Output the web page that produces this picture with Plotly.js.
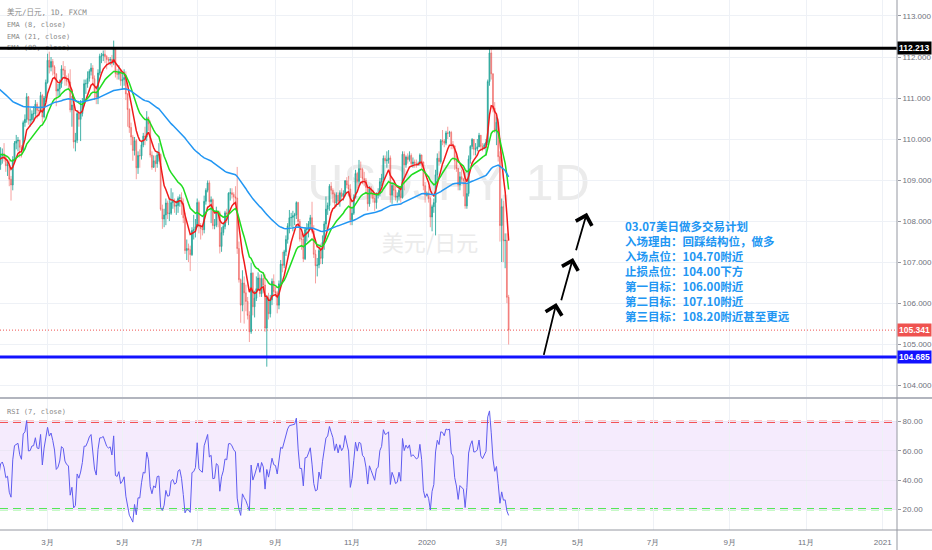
<!DOCTYPE html>
<html>
<head>
<meta charset="utf-8">
<script src="https://cdn.plot.ly/plotly-3.0.1.min.js"></script>
<style>
  html, body { margin: 0; padding: 0; background: #fff; }
  #chart { width: 932px; height: 550px; }
</style>
</head>
<body>
<div id="chart"></div>
<script>
// USD/JPY daily bars (FXCM), one per weekday from 2019-01-21 to 2020-03-06
const firstDay = '2019-01-21'
const prevClose = 109.77 // close of the bar before the first one

// one row per week
const closes = [
    109.65, 109.37, 109.60, 109.64, 109.55,
    109.35, 109.37, 109.02, 108.88, 109.50,
    109.90, 109.95, 109.97, 109.80, 109.73,
    110.40, 110.48, 111.03, 110.46, 110.47,
    110.61, 110.62, 110.85, 110.70, 110.69,
    111.06, 110.54, 111.00, 111.38, 111.92,
    111.75, 111.89, 111.76, 111.59, 111.17,
    111.22, 111.35, 111.71, 111.68, 111.47,
    111.41, 111.39, 110.71, 110.83, 109.93,
    109.97, 110.62, 110.48, 110.62, 110.85,
    111.35, 111.35, 111.48, 111.65, 111.73,
    111.47, 111.15, 111.02, 111.61, 112.02,
    112.03, 112.07, 112.01, 111.94, 111.92,
    111.94, 111.86, 112.20, 111.60, 111.58,
    111.65, 111.42, 111.45, 111.50, 111.10,
    110.72, 110.28, 110.05, 109.72, 109.96,
    109.30, 109.60, 109.59, 109.86, 110.07,
    110.05, 110.52, 110.37, 109.61, 109.31,
    109.47, 109.40, 109.61, 109.62, 108.29,
    108.05, 108.15, 108.44, 108.18, 108.19,
    108.45, 108.48, 108.36, 108.38, 108.55,
    108.57, 108.43, 108.08, 107.28, 107.33,
    107.30, 107.18, 107.77, 107.79, 107.86,
    108.45, 107.88, 107.82, 107.79, 108.48,
    108.75, 108.93, 108.47, 108.52, 107.89,
    107.90, 108.24, 108.20, 107.38, 107.72,
    107.87, 108.20, 108.18, 108.68, 108.69,
    108.65, 108.59, 108.56, 107.33, 106.57,
    105.95, 106.49, 106.25, 106.04, 105.70,
    105.30, 106.73, 105.91, 106.12, 106.35,
    106.61, 106.23, 106.60, 106.44, 105.39,
    106.13, 105.74, 106.08, 106.53, 106.28,
    106.25, 105.95, 106.47, 106.95, 106.92,
    107.25, 107.55, 107.88, 108.08, 108.09,
    108.13, 108.15, 108.45, 107.99, 107.56,
    107.56, 107.08, 107.79, 107.80, 107.93,
    108.08, 107.75, 107.19, 106.91, 106.93,
    107.28, 107.09, 107.48, 107.93, 108.29,
    108.38, 108.85, 108.75, 108.66, 108.44,
    108.63, 108.48, 108.69, 108.60, 108.67,
    108.98, 108.88, 108.78, 108.03, 108.19,
    108.58, 109.16, 108.97, 109.28, 109.26,
    109.04, 109.00, 108.82, 108.42, 108.78,
    108.67, 108.55, 108.45, 108.63, 108.66,
    108.96, 109.05, 109.53, 109.47, 109.49,
    109.54, 108.63, 108.87, 108.75, 108.58,
    108.60, 108.75, 108.57, 109.63, 109.37,
    109.56, 109.50, 109.60, 109.40, 109.44,
    109.41, 109.38, 109.40, 109.61, 109.44,
    108.86, 108.63, 108.68, 108.55, 108.10,
    108.35, 108.45, 109.13, 109.53, 109.45,
    109.96, 109.95, 109.90, 110.15, 110.14,
    110.16, 109.87, 109.83, 109.47, 109.28,
    108.88, 109.08, 109.02, 108.99, 108.37,
    108.67, 109.51, 109.82, 109.99, 109.75,
    109.76, 109.81, 110.09, 109.82, 109.77,
    109.86, 109.92, 111.40, 112.10, 111.59,
    110.75, 110.22, 110.41, 109.57, 107.89,
    108.35, 107.52, 107.53, 106.14, 105.341
]

const highs = [
    109.80, 109.70, 109.80, 109.77, 109.90,
    109.60, 109.50, 109.55, 109.10, 109.58,
    109.95, 110.10, 110.05, 109.98, 109.85,
    110.45, 110.60, 111.12, 111.05, 110.75,
    110.70, 110.80, 110.95, 110.90, 110.80,
    111.15, 111.10, 111.05, 111.45, 112.08,
    112.13, 112.00, 111.95, 111.80, 111.60,
    111.35, 111.45, 111.80, 111.90, 111.78,
    111.55, 111.60, 111.70, 111.05, 110.95,
    110.15, 110.70, 110.70, 110.95, 111.00,
    111.45, 111.45, 111.65, 111.70, 111.85,
    111.80, 111.55, 111.25, 111.70, 112.08,
    112.10, 112.16, 112.17, 112.05, 112.00,
    112.00, 112.05, 112.40, 112.22, 111.70,
    111.80, 111.70, 111.60, 111.70, 111.65,
    111.12, 110.75, 110.40, 110.10, 110.05,
    110.00, 109.70, 109.75, 109.95, 110.15,
    110.30, 110.68, 110.55, 110.45, 109.70,
    109.60, 109.60, 109.70, 109.90, 109.65,
    108.40, 108.30, 108.55, 108.50, 108.55,
    108.80, 108.70, 108.55, 108.50, 108.60,
    108.65, 108.70, 108.55, 108.20, 107.55,
    107.45, 107.40, 107.85, 108.15, 108.05,
    108.55, 108.50, 107.95, 107.90, 108.62,
    108.80, 108.99, 108.99, 108.60, 108.55,
    108.05, 108.35, 108.25, 108.25, 107.85,
    107.95, 108.25, 108.30, 108.70, 108.80,
    108.80, 108.70, 108.85, 109.32, 107.50,
    106.60, 106.80, 106.65, 106.45, 106.15,
    105.80, 106.98, 106.75, 106.30, 106.65,
    106.75, 106.70, 106.70, 106.75, 106.70,
    106.20, 106.25, 106.20, 106.60, 106.70,
    106.40, 106.30, 106.55, 107.05, 107.25,
    107.30, 107.65, 107.95, 108.27, 108.20,
    108.25, 108.20, 108.48, 108.47, 108.05,
    107.70, 107.70, 107.85, 107.95, 108.00,
    108.15, 108.47, 107.90, 107.30, 107.10,
    107.35, 107.45, 107.65, 108.00, 108.60,
    108.45, 108.90, 108.95, 108.80, 108.70,
    108.70, 108.70, 108.75, 108.80, 108.75,
    109.00, 109.07, 109.10, 108.90, 108.35,
    108.65, 109.25, 109.20, 109.49, 109.45,
    109.30, 109.20, 109.05, 108.85, 108.85,
    108.85, 108.75, 108.70, 108.70, 108.80,
    109.05, 109.15, 109.60, 109.60, 109.70,
    109.73, 109.60, 108.95, 108.95, 108.90,
    108.70, 108.85, 108.80, 109.70, 109.70,
    109.60, 109.65, 109.70, 109.65, 109.55,
    109.50, 109.50, 109.45, 109.65, 109.62,
    109.45, 108.95, 108.72, 108.85, 108.60,
    108.40, 108.55, 109.25, 109.65, 109.70,
    110.00, 110.22, 110.00, 110.20, 110.30,
    110.20, 110.20, 109.95, 109.85, 109.60,
    109.30, 109.20, 109.25, 109.05, 109.20,
    108.90, 109.60, 109.85, 110.02, 110.00,
    109.90, 110.00, 110.15, 110.10, 109.90,
    109.90, 110.00, 111.45, 112.23, 112.20,
    111.60, 110.90, 110.55, 110.50, 109.70,
    108.55, 108.50, 107.70, 107.70, 106.20
]

const lows = [
    109.52, 109.15, 109.25, 109.40, 109.45,
    109.20, 109.10, 108.85, 108.50, 108.75,
    109.45, 109.75, 109.70, 109.55, 109.55,
    109.70, 110.30, 110.40, 110.35, 110.30,
    110.40, 110.45, 110.55, 110.50, 110.55,
    110.65, 110.40, 110.50, 110.90, 111.35,
    111.60, 111.65, 111.55, 111.45, 110.80,
    111.05, 111.05, 111.25, 111.55, 111.30,
    111.30, 111.20, 110.65, 110.30, 109.77,
    109.70, 109.90, 110.30, 109.95, 110.55,
    110.80, 111.10, 111.25, 111.40, 111.55,
    111.30, 110.95, 110.85, 110.85, 111.55,
    111.85, 111.90, 111.85, 111.70, 111.85,
    111.80, 111.75, 111.80, 111.50, 111.45,
    111.45, 111.30, 111.20, 111.30, 110.95,
    110.30, 110.15, 109.85, 109.47, 109.60,
    109.02, 109.15, 109.30, 109.50, 109.80,
    109.85, 109.95, 110.20, 109.55, 109.25,
    109.30, 109.20, 109.30, 109.45, 108.25,
    107.81, 107.85, 107.90, 108.05, 108.00,
    108.15, 108.30, 108.20, 108.15, 108.20,
    108.35, 108.15, 107.95, 107.20, 107.05,
    107.00, 106.78, 107.15, 107.55, 107.60,
    107.85, 107.70, 107.55, 107.65, 107.70,
    108.40, 108.70, 108.35, 107.95, 107.80,
    107.80, 107.85, 107.85, 107.21, 107.25,
    107.65, 107.80, 107.95, 107.90, 108.50,
    108.55, 108.40, 108.40, 107.20, 106.50,
    105.52, 105.80, 105.50, 105.80, 105.60,
    105.05, 105.25, 105.70, 105.65, 106.05,
    106.30, 106.15, 106.15, 106.25, 105.30,
    104.45, 105.60, 105.65, 105.95, 106.20,
    106.15, 105.75, 105.85, 106.40, 106.75,
    106.85, 107.15, 107.45, 107.70, 107.85,
    107.75, 107.90, 108.05, 107.85, 107.50,
    107.30, 107.00, 107.05, 107.50, 107.60,
    107.80, 107.70, 107.10, 106.48, 106.65,
    106.85, 106.95, 106.95, 107.30, 107.80,
    108.15, 108.25, 108.65, 108.45, 108.30,
    108.35, 108.40, 108.35, 108.50, 108.50,
    108.60, 108.80, 108.60, 107.90, 107.90,
    108.15, 108.55, 108.80, 108.85, 109.05,
    108.90, 108.85, 108.65, 108.25, 108.35,
    108.55, 108.45, 108.25, 108.30, 108.55,
    108.60, 108.85, 109.00, 109.40, 109.30,
    109.40, 108.45, 108.42, 108.60, 108.50,
    108.45, 108.50, 108.45, 108.55, 108.75,
    109.30, 109.40, 109.45, 109.35, 109.30,
    109.30, 109.30, 109.35, 109.35, 109.30,
    108.75, 108.45, 108.60, 108.45, 107.85,
    107.75, 108.20, 107.65, 109.00, 109.35,
    109.40, 109.85, 109.80, 109.85, 110.00,
    110.05, 109.75, 109.75, 109.25, 109.20,
    108.75, 108.75, 108.95, 108.60, 108.30,
    108.30, 108.60, 109.40, 109.75, 109.60,
    109.60, 109.70, 109.80, 109.75, 109.70,
    109.75, 109.60, 109.85, 111.30, 111.45,
    110.65, 110.15, 109.85, 109.45, 107.50,
    107.00, 107.00, 106.85, 106.00, 104.99
]

const emaLengths = [8, 21, 89]
const emaSeeds = [109.5, 109.65, 111.3]
const rsiLength = 7
const rsiSeedGain = 0.14
const rsiSeedLoss = 0.11

// drawn horizontal levels
const resistance = 112.213
const support = 104.685

// trade plan text and the three drawn arrows (time, price)
const planLines = [
    '03.07美日做多交易计划',
    '入场理由：回踩结构位，做多',
    '入场点位：104.70附近',
    '止损点位：104.00下方',
    '第一目标：106.00附近',
    '第二目标：107.10附近',
    '第三目标：108.20附近甚至更远'
]
const arrowTails = [['2020-04-03', 104.70], ['2020-04-17', 106.03], ['2020-04-29 12:00', 107.25]]
const arrowHeads = [['2020-04-14 10:00', 106.00], ['2020-04-28', 107.10], ['2020-05-08', 108.20]]

const monthTicks = ['2019-03-01', '2019-05-01', '2019-07-01', '2019-09-02', '2019-11-01', '2020-01-01',
    '2020-03-02', '2020-05-01', '2020-07-01', '2020-09-01', '2020-11-02', '2021-01-01']
const monthLabels = ['3月', '5月', '7月', '9月', '11月', '2020', '3月', '5月', '7月', '9月', '11月', '2021']

const legendLines = ['美元/日元, 1D, FXCM', 'EMA (8, close)', 'EMA (21, close)', 'EMA (89, close)']


function tradingDays(start, n) {
    const out = []
    const d = new Date(start + 'T00:00:00Z')
    while (out.length < n) {
        const wd = d.getUTCDay()
        if (wd !== 0 && wd !== 6) out.push(d.toISOString().slice(0, 10))
        d.setUTCDate(d.getUTCDate() + 1)
    }
    return out
}

function ema(values, len, seed) {
    const k = 2 / (len + 1)
    let e = seed
    return values.map(v => (e = e + k * (v - e)))
}

function rsi(values, len, first, g0, l0) {
    let g = g0, l = l0, prev = first
    return values.map(v => {
        const ch = v - prev
        prev = v
        g = (g * (len - 1) + Math.max(ch, 0)) / len
        l = (l * (len - 1) + Math.max(-ch, 0)) / len
        return 100 - 100 / (1 + g / l)
    })
}

const dates = tradingDays(firstDay, closes.length)
const opens = closes.map((c, i) => i ? closes[i - 1] : prevClose)
const lastPrice = closes[closes.length - 1]

// page geometry (px): plot height 530, main pane 0..397, rsi pane 399..530
const H = 530
const py = p => (H - p) / H

const emaColors = ['#f01a1a', '#1fdc1f', '#2196f3']

let data = [{
    type: 'candlestick',
    x: dates, open: opens, high: highs, low: lows, close: closes,
    increasing: { line: { color: 'rgba(38,166,154,0.85)', width: 1 }, fillcolor: 'rgba(38,166,154,0.85)' },
    decreasing: { line: { color: 'rgba(239,83,80,0.55)', width: 1 }, fillcolor: 'rgba(239,83,80,0.55)' },
    whiskerwidth: 0,
    hoverinfo: 'skip',
    xaxis: 'x', yaxis: 'y'
}]

emaLengths.forEach((n, i) => {
    data.push({
        type: 'scatter', mode: 'lines',
        x: dates, y: ema(closes, n, emaSeeds[i]),
        line: { color: emaColors[i], width: 1.5 },
        hoverinfo: 'skip', xaxis: 'x', yaxis: 'y'
    })
})

data.push({
    type: 'scatter', mode: 'lines',
    x: dates, y: rsi(closes, rsiLength, prevClose, rsiSeedGain, rsiSeedLoss),
    line: { color: '#5f5cf0', width: 1 },
    hoverinfo: 'skip', xaxis: 'x', yaxis: 'y2'
})

const legendFont = { family: 'DejaVu Sans Mono, Noto Sans CJK SC, monospace', size: 7, color: '#8a8a8a' }
const textBox = (text, y0, y1, font) => ({
    type: 'rect', xref: 'paper', yref: 'paper', x0: 0, x1: 0.4, y0: y0, y1: y1,
    line: { width: 0 }, fillcolor: 'rgba(0,0,0,0)',
    label: { text: text, textposition: 'middle left', padding: 4, font: font }
})

let shapes = [
    // watermark
    {
        type: 'rect', xref: 'paper', yref: 'paper', x0: 0, x1: 1, y0: py(205), y1: py(150),
        line: { width: 0 }, fillcolor: 'rgba(0,0,0,0)', layer: 'below',
        label: { text: 'USDJPY, 1D', textposition: 'middle center',
            font: { family: 'Liberation Sans, sans-serif', size: 50, color: '#ebebeb' } }
    },
    {
        type: 'rect', xref: 'paper', yref: 'paper', x0: 0, x1: 860 / 897, y0: py(258), y1: py(232),
        line: { width: 0 }, fillcolor: 'rgba(0,0,0,0)', layer: 'below',
        label: { text: '美元/日元', textposition: 'middle center',
            font: { family: 'Noto Sans CJK SC, sans-serif', size: 22, color: '#ebebeb' } }
    },
    // rsi band
    {
        type: 'rect', xref: 'paper', yref: 'y2', x0: 0, x1: 1, y0: 20, y1: 80,
        line: { width: 0 }, fillcolor: 'rgba(153,61,240,0.1)', layer: 'below'
    },
    { type: 'line', xref: 'paper', yref: 'y2', x0: 0, x1: 1, y0: 80, y1: 80, layer: 'between',
        line: { color: '#f22020', width: 2, dash: '8px,5px' } },
    { type: 'line', xref: 'paper', yref: 'y2', x0: 0, x1: 1, y0: 20, y1: 20, layer: 'between',
        line: { color: '#22e622', width: 2, dash: '8px,5px' } }
]

legendLines.forEach((t, i) => {
    const c = 12.7 + i * 11.4
    shapes.push(textBox(t, py(c + 5), py(c - 5), i ? legendFont : Object.assign({}, legendFont, { size: 7.5 })))
})
shapes.push(textBox('RSI (7, close)', py(416), py(406), legendFont))

shapes.push(
    // last price, drawn levels
    { type: 'line', xref: 'paper', yref: 'y', x0: 0, x1: 1, y0: lastPrice, y1: lastPrice,
        line: { color: '#ef5350', width: 1, dash: '1px,2px' } },
    { type: 'line', xref: 'paper', yref: 'y', x0: 0, x1: 1, y0: resistance, y1: resistance,
        line: { color: '#000000', width: 3 } },
    { type: 'line', xref: 'paper', yref: 'y', x0: 0, x1: 1, y0: support, y1: support,
        line: { color: '#1212ff', width: 3 } },
    // pane frame
    { type: 'line', xref: 'paper', yref: 'paper', x0: 0, x1: 932 / 897, y0: py(398), y1: py(398),
        line: { color: '#b2b5be', width: 2 } },
    { type: 'line', xref: 'paper', yref: 'paper', x0: 0, x1: 932 / 897, y0: 0, y1: 0,
        line: { color: '#9598a1', width: 1 } },
    { type: 'line', xref: 'paper', yref: 'paper', x0: 1, x1: 1, y0: py(550), y1: 1,
        line: { color: '#9598a1', width: 1 } }
)

const priceTag = (v, bg) => ({
    xref: 'paper', yref: 'y', x: 1, y: v, xanchor: 'left', yanchor: 'middle',
    text: v.toFixed(3), showarrow: false, bgcolor: bg, borderpad: 1,
    font: { family: 'Liberation Sans, Arial, sans-serif', size: 8.5, color: '#ffffff', weight: 'bold' }
})

let annotations = [
    priceTag(resistance, '#000000'),
    priceTag(lastPrice, '#ef5350'),
    priceTag(support, '#1212ff'),
    // trade plan as one left-aligned block
    {
        xref: 'paper', yref: 'y', x: 624 / 897, y: 106.78,
        xanchor: 'left', yanchor: 'middle', align: 'left', showarrow: false,
        text: planLines.join('<br>'), borderpad: 0,
        font: { family: 'Noto Sans CJK SC, sans-serif', size: 11.5, color: '#2196f3', weight: 'bold' }
    }
]

arrowTails.forEach((t, i) => {
    annotations.push({
        xref: 'x', yref: 'y', x: arrowHeads[i][0], y: arrowHeads[i][1],
        axref: 'x', ayref: 'y', ax: t[0], ay: t[1],
        text: '', showarrow: true, arrowhead: 4, arrowsize: 1.8, arrowwidth: 1.8,
        arrowcolor: '#000000', standoff: 0
    })
})

const tickFont = { family: 'Liberation Sans, Arial, sans-serif', size: 8, color: '#6f727c' }

let layout = {
    width: 932, height: 550,
    margin: { l: 0, r: 35, t: 0, b: 20 },
    paper_bgcolor: '#ffffff', plot_bgcolor: '#ffffff',
    showlegend: false,
    xaxis: {
        type: 'date', anchor: 'y2', domain: [0, 1],
        range: ['2019-01-22 16:00', '2021-01-13 05:00'],
        rangebreaks: [{ bounds: ['sat', 'mon'] }],
        rangeslider: { visible: false },
        tickmode: 'array', tickvals: monthTicks, ticktext: monthLabels,
        ticks: 'outside', ticklen: 4, tickcolor: 'rgba(0,0,0,0)', tickfont: tickFont,
        showgrid: true, gridcolor: '#eef1f6', gridwidth: 1,
        showline: false, zeroline: false, fixedrange: true
    },
    yaxis: {
        domain: [py(397), 1], range: [103.71, 113.39], side: 'right', anchor: 'x',
        tick0: 104, dtick: 1, tickformat: '.3f',
        ticks: 'outside', ticklen: 3, tickcolor: '#9598a1', tickfont: tickFont,
        showgrid: true, gridcolor: '#eef1f6', zeroline: false, showline: false, fixedrange: true
    },
    yaxis2: {
        domain: [0, py(399)], range: [5.8, 95.5], side: 'right', anchor: 'x',
        tickmode: 'array', tickvals: [20, 40, 60, 80], tickformat: '.2f',
        ticks: 'outside', ticklen: 3, tickcolor: '#9598a1', tickfont: tickFont,
        showgrid: true, gridcolor: '#ece6f5', zeroline: false, showline: false, fixedrange: true
    },
    shapes: shapes,
    annotations: annotations
}

Plotly.newPlot('chart', data, layout, { displayModeBar: false, staticPlot: true })
</script>
</body>
</html>
